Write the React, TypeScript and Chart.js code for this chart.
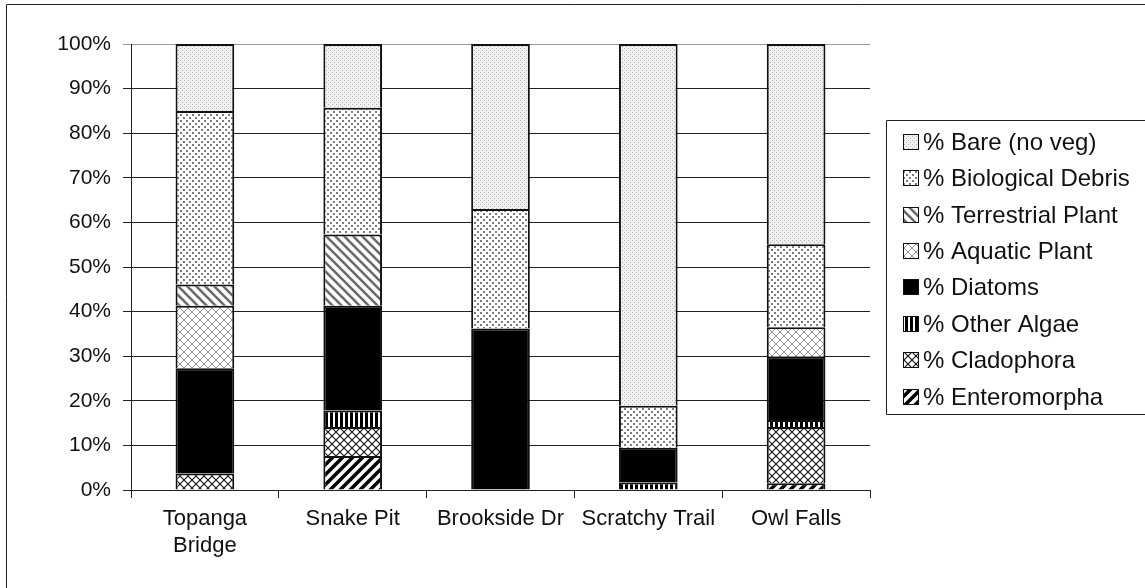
import React, { useEffect, useRef } from 'react';
import { Chart, registerables } from 'chart.js';

Chart.register(...registerables);

const categories: (string | string[])[] = [['Topanga', 'Bridge'], 'Snake Pit', 'Brookside Dr', 'Scratchy Trail', 'Owl Falls'];
const seriesNames = [
  '% Enteromorpha',
  '% Cladophora',
  '% Other Algae',
  '% Diatoms',
  '% Aquatic Plant',
  '% Terrestrial Plant',
  '% Biological Debris',
  '% Bare (no veg)',
];
const enteromorpha = [0, 7.6, 0, 0, 1.5];
const cladophora = [3.7, 6.5, 0, 0, 12.6];
const otherAlgae = [0, 3.7, 0, 1.7, 1.6];
const diatoms = [23.6, 23.5, 36.2, 7.8, 14.2];
const aquaticPlant = [14.0, 0, 0, 0, 6.6];
const terrestrialPlant = [4.8, 16.0, 0, 0, 0];
const biologicalDebris = [38.9, 28.4, 26.8, 9.4, 18.6];
const bareNoVeg = [15.0, 14.3, 37.0, 81.1, 44.9];
const yTicks = [0, 10, 20, 30, 40, 50, 60, 70, 80, 90, 100];

const FONT = '"Liberation Sans", Arial, sans-serif';

function makePattern(w: number, h: number, draw: (g: CanvasRenderingContext2D) => void) {
  const c = document.createElement('canvas');
  c.width = w;
  c.height = h;
  const g = c.getContext('2d')!;
  draw(g);
  return g.createPattern(c, 'repeat')!;
}

function buildPatterns() {
  const bare = makePattern(4, 4, (g) => {
    g.fillStyle = '#f0f0f0';
    g.fillRect(0, 0, 4, 4);
    g.fillStyle = '#b4b4b4';
    g.fillRect(0, 0, 1, 1);
    g.fillRect(2, 2, 1, 1);
  });
  const debris = makePattern(6, 6, (g) => {
    g.fillStyle = '#ffffff';
    g.fillRect(0, 0, 6, 6);
    g.fillStyle = '#7c7c7c';
    g.fillRect(0, 0, 2, 2);
    g.fillRect(3, 3, 2, 2);
  });
  const terrestrial = makePattern(9, 9, (g) => {
    g.fillStyle = '#ffffff';
    g.fillRect(0, 0, 9, 9);
    g.strokeStyle = '#6a6a6a';
    g.lineWidth = 2.6;
    for (const c of [-9, 0, 9]) {
      g.beginPath();
      g.moveTo(-2, c - 2);
      g.lineTo(11, c + 11);
      g.stroke();
    }
  });
  const cross = (color: string, lw: number) =>
    makePattern(8, 8, (g) => {
      g.fillStyle = '#ffffff';
      g.fillRect(0, 0, 8, 8);
      g.strokeStyle = color;
      g.lineWidth = lw;
      for (const c of [-8, 0, 8]) {
        g.beginPath();
        g.moveTo(-2, c - 2);
        g.lineTo(10, c + 10);
        g.stroke();
        g.beginPath();
        g.moveTo(-2, 8 - c + 2);
        g.lineTo(10, -c - 2);
        g.stroke();
      }
    });
  const aquatic = cross('#949494', 1);
  const clad = cross('#111111', 1.1);
  const other = makePattern(5, 5, (g) => {
    g.fillStyle = '#ffffff';
    g.fillRect(0, 0, 5, 5);
    g.fillStyle = '#000000';
    g.fillRect(0, 0, 3, 5);
  });
  const entero = makePattern(10, 10, (g) => {
    g.fillStyle = '#ffffff';
    g.fillRect(0, 0, 10, 10);
    g.strokeStyle = '#000000';
    g.lineWidth = 3.5;
    for (const c of [-10, 0, 10]) {
      g.beginPath();
      g.moveTo(-2, 10 + c + 2);
      g.lineTo(12, c - 2);
      g.stroke();
    }
  });
  return [entero, clad, other, '#000000', aquatic, terrestrial, debris, bare];
}

const framePlugin = {
  id: 'frameLegend',
  afterDraw(chart: any) {
    const ctx: CanvasRenderingContext2D = chart.ctx;
    ctx.save();
    ctx.strokeStyle = '#222';
    ctx.lineWidth = 1;
    ctx.beginPath();
    ctx.moveTo(6.5, 588);
    ctx.lineTo(6.5, 4.5);
    ctx.lineTo(1145, 4.5);
    ctx.stroke();
    ctx.beginPath();
    ctx.moveTo(1145, 120.5);
    ctx.lineTo(886.5, 120.5);
    ctx.lineTo(886.5, 414.5);
    ctx.lineTo(1145, 414.5);
    ctx.stroke();
    const ds = chart.data.datasets.slice().reverse();
    ds.forEach((d: any, i: number) => {
      const cy = Math.round(141.7 + i * 36.4);
      ctx.fillStyle = d.backgroundColor;
      ctx.fillRect(904, cy - 7, 14, 14);
      ctx.strokeStyle = '#111';
      ctx.strokeRect(903.5, cy - 7.5, 15, 15);
      ctx.fillStyle = '#111';
      ctx.font = `24px ${FONT}`;
      ctx.textBaseline = 'middle';
      ctx.textAlign = 'left';
      ctx.fillText(d.label, 923, cy + 1);
    });
    ctx.restore();
  },
};

export default function App() {
  const ref = useRef<HTMLCanvasElement>(null);
  useEffect(() => {
    if (!ref.current) return;
    const fills = buildPatterns();
    const values = [enteromorpha, cladophora, otherAlgae, diatoms, aquaticPlant, terrestrialPlant, biologicalDebris, bareNoVeg];
    const chart = new Chart(ref.current, {
      type: 'bar',
      data: {
        labels: categories as any,
        datasets: seriesNames.map((name, i) => ({
          label: name,
          data: values[i],
          backgroundColor: fills[i] as any,
          borderColor: '#111111',
          borderWidth: 2,
          borderSkipped: 'start',
          barPercentage: 0.397,
          categoryPercentage: 1,
        })),
      },
      options: {
        responsive: false,
        animation: false,
        devicePixelRatio: 1,
        layout: { padding: { left: 0, right: 275, top: 44, bottom: 0 } },
        plugins: { legend: { display: false }, tooltip: { enabled: false } },
        scales: {
          x: {
            stacked: true,
            offset: true,
            grid: { display: true, drawOnChartArea: false, offset: true, tickLength: 8, color: '#222' },
            border: { color: '#222' },
            ticks: { font: { size: 22, family: FONT }, color: '#111', padding: 8, maxRotation: 0, autoSkip: false },
            afterFit(s: any) {
              s.height = 98;
            },
          },
          y: {
            stacked: true,
            min: 0,
            max: 100,
            afterBuildTicks(s: any) {
              s.ticks = yTicks.map((v) => ({ value: v }));
            },
            ticks: {
              font: { size: 21, family: FONT },
              color: '#111',
              padding: 12,
              callback: (v: any) => `${v}%`,
            },
            grid: {
              tickLength: 8,
              color: (c: any) => (c.tick && c.tick.value === 100 ? '#9a9a9a' : '#222'),
            },
            border: { color: '#222' },
            afterFit(s: any) {
              s.width = 131;
            },
          },
        },
      },
      plugins: [framePlugin],
    });
    return () => chart.destroy();
  }, []);
  return (
    <canvas
      ref={ref}
      width={1145}
      height={588}
      style={{ position: 'absolute', left: 0, top: 0, width: 1145, height: 588 }}
    />
  );
}
